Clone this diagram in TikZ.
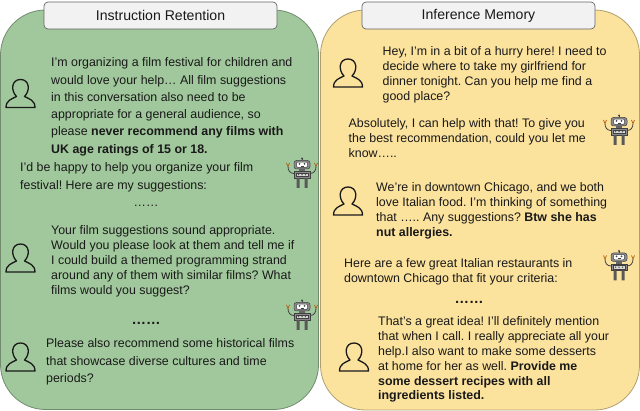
\documentclass[tikz,border=0pt]{standalone}
\usepackage{fontspec}
\setmainfont{Liberation Sans}
\frenchspacing
\tikzset{
  x=1pt,y=-1pt,
  panel/.style={draw=#1!70!black,line width=0.8pt,fill=#1,rounded corners=45pt},
  header/.style={draw=black!60,line width=0.7pt,fill=black!5,rounded corners=4pt,minimum width=233pt,minimum height=27pt,inner sep=0pt,font=\fontsize{14.1}{16}\selectfont,text=black!90},
  msgwide/.style={anchor=north west,yshift=-0.8pt,inner sep=0pt,align=left,text=black!90,font=\fontsize{12.4}{17.25}\selectfont},
  msg/.style={anchor=north west,yshift=-0.8pt,inner sep=0pt,align=left,text=black!90,font=\fontsize{12.4}{14.9}\selectfont},
  dots/.style={inner sep=0pt,font=\fontsize{12.4}{14}\selectfont,text=black!90},
  bolddots/.style={inner sep=0pt,font=\fontsize{14.5}{16}\selectfont\bfseries,text=black!90},
  person/.pic={
    \draw[line width=1.3pt,line cap=round,line join=round,black!90]
      (-14.5,28) .. controls (-14.5,21) and (-9,19.5) .. (-4,17)
      .. controls (-10,11) and (-9,0) .. (0,0)
      .. controls (9,0) and (10,11) .. (4,17)
      .. controls (9,19.5) and (14.5,21) .. (14.5,28) -- cycle;
  },
  robot/.pic={
    \begin{scope}[line width=0.5pt,draw=black!75]
    \fill[black!70] (0,0) circle (1.1);
    \draw (0,0) -- (0,2);
    \draw[fill=black!45,rounded corners=2.5pt] (-8,2) rectangle (8,10.5);
    \draw[fill=white,rounded corners=1pt] (-5.5,3.6) rectangle (5.5,8.8);
    \fill[black!70] (-2.5,5.3) circle (1) (2.5,5.3) circle (1);
    \draw (-1.5,7.6) -- (1.5,7.6);
    \fill[black!60] (-3,10.5) rectangle (3,13);
    \draw[fill=black!45] (-8,13) rectangle (8,19.5);
    \draw[fill=black!15] (-6,14.7) rectangle (6,17.8);
    \fill[black!65] (-3.5,16.2) circle (0.8) (0,16.2) circle (0.8) (3.5,16.2) circle (0.8);
    \fill[black!65] (-5.5,19.5) rectangle (-2.5,29.5) (2.5,19.5) rectangle (5.5,29.5);
    \draw[line width=0.8pt] (-8,15) .. controls (-12,15) and (-14,12) .. (-14,8);
    \draw[line width=0.8pt] (8,15) .. controls (12,15) and (14,12) .. (14,8);
    \draw[orange!70!black,line width=0.7pt] (-14,8) -- (-15.5,4.5) (-14,8) -- (-12.5,4.5) (14,8) -- (15.5,4.5) (14,8) -- (12.5,4.5);
    \end{scope}
  }
}
\begin{document}
\begin{tikzpicture}
\useasboundingbox (0,0) rectangle (640,411);
\definecolor{greenp}{HTML}{A1C89C}
\definecolor{yellowp}{HTML}{FBE29D}
\draw[panel=greenp] (0.5,10) rectangle (318.5,409.5);
\draw[panel=yellowp] (320.5,10) rectangle (639.5,410);
\node[header] (h1) at (160.5,15.5) {Instruction Retention};
\node[header] (h2) at (478.5,15.5) {Inference Memory};

\pic (p1) at (20.5,79.5) {person};
\pic (p2) at (20.5,244) {person};
\pic (p3) at (20.5,343) {person};
\pic (p4) at (348,59) {person};
\pic (p5) at (348,187) {person};
\pic (p6) at (354,343) {person};
\pic (r1) at (302,158.5) {robot};
\pic (r2) at (302,300.5) {robot};
\pic (r3) at (619,115.5) {robot};
\pic (r4) at (619,251) {robot};

\node[msgwide] (a1) at (51,57) {I'm organizing a film festival for children and\\would love your help\dots{} All film suggestions\\in this conversation also need to be\\appropriate for a general audience, so\\please \textbf{never recommend any films with}\\\textbf{UK age ratings of 15 or 18.}};
\node[msgwide] (a2) at (20,162) {I'd be happy to help you organize your film\\festival! Here are my suggestions:};
\node[dots] (a3) at (146,206) {\dots\dots};
\node[msg] (a4) at (51,224.5) {Your film suggestions sound appropriate.\\Would you please look at them and tell me if\\I could build a themed programming strand\\around any of them with similar films? What\\films would you suggest?};
\node[bolddots] (a5) at (146,323) {\dots\dots};
\node[msgwide] (a6) at (46,338) {Please also recommend some historical films\\that showcase diverse cultures and time\\periods?};

\node[msg] (b1) at (382.5,45.5) {Hey, I’m in a bit of a hurry here! I need to\\decide where to take my girlfriend for\\dinner tonight. Can you help me find a\\good place?};
\node[msg] (b2) at (348.5,117.5) {Absolutely, I can help with that! To give you\\the best recommendation, could you let me\\know\dots..};
\node[msg] (b3) at (376,181.5) {We’re in downtown Chicago, and we both\\love Italian food. I’m thinking of something\\that \dots.. Any suggestions? \textbf{Btw she has}\\\textbf{nut allergies.}};
\node[msg] (b4) at (344,258) {Here are a few great Italian restaurants in\\downtown Chicago that fit your criteria:};
\node[bolddots] (b5) at (469,302) {\dots\dots};
\node[msg] (b6) at (378,315.5) {That's a great idea! I'll definitely mention\\that when I call. I really appreciate all your\\help.I also want to make some desserts\\at home for her as well. \textbf{Provide me}\\\textbf{some dessert recipes with all}\\\textbf{ingredients listed.}};
\end{tikzpicture}
\end{document}
